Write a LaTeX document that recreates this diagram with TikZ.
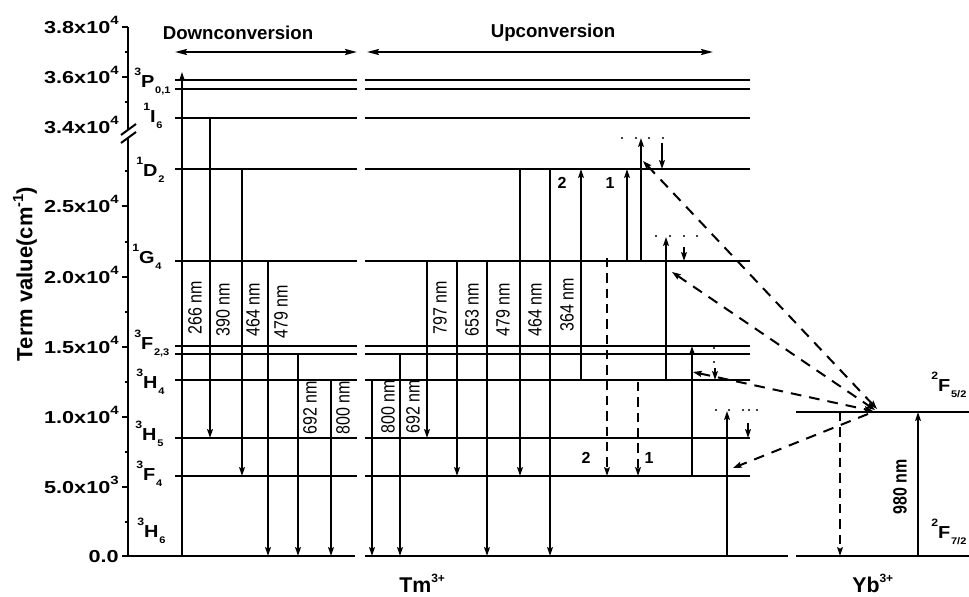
\documentclass[tikz,border=0pt]{standalone}
\usepackage{fontspec}
\setmainfont{Liberation Sans}
\usepackage{graphicx}
\usetikzlibrary{arrows.meta}
\newcommand\lv[3]{\scalebox{1.15}[1]{\bfseries\raisebox{9pt}{\fontsize{8}{8}\selectfont #1}{\fontsize{13}{13}\selectfont #2}\kern0.5pt\raisebox{-5pt}{\fontsize{7.2}{7.2}\selectfont #3}}}
\newcommand\tk[2]{\scalebox{1.25}[1]{\bfseries\fontsize{13}{13}\selectfont #1\raisebox{6.5pt}{\fontsize{9}{9}\selectfont #2}}}
\newcommand\nmtxt[1]{\scalebox{1}[1.2]{#1}}
\tikzset{
  lvl/.style={line width=1.6pt},
  axisl/.style={line width=1.5pt},
  ar/.style={line width=1.5pt,-{Stealth[length=6.5pt,width=4.2pt,inset=1pt]}},
  dar/.style={ar, dash pattern=on 7pt off 4.5pt},
  tr/.style={line width=1.5pt, dash pattern=on 8pt off 6pt, {Stealth[length=6.5pt,width=4.5pt,inset=1pt]}-{Stealth[length=6.5pt,width=4.5pt,inset=1pt]}},
  tr1/.style={line width=1.5pt, dash pattern=on 8pt off 6pt, -{Stealth[length=6.5pt,width=4.5pt,inset=1pt]}},
  dbl/.style={line width=1.6pt, {Stealth[length=9pt,width=4.5pt,inset=1.5pt]}-{Stealth[length=9pt,width=4.5pt,inset=1.5pt]}},
  nm/.style={rotate=90, inner sep=0pt, font=\fontsize{12}{12}\selectfont},
  nmb/.style={nm, font=\bfseries\fontsize{12}{12}\selectfont},
  numl/.style={inner sep=0pt, font=\bfseries\fontsize{12}{12}\selectfont},
  head/.style={inner sep=0pt, font=\bfseries\fontsize{14}{14}\selectfont},
  lab/.style={anchor=base west, inner sep=0pt},
  tick/.style={anchor=base east, inner sep=0pt},
  dot/.style={fill=black}
}
\begin{document}
\begin{tikzpicture}[x=0.75pt,y=-0.75pt]
\useasboundingbox (0,0) rectangle (969,596);

% axis
\coordinate (ax1) at (128,27); \coordinate (ax2) at (128,130);
\coordinate (ax3) at (128,138); \coordinate (ax4) at (128,556);
\draw[axisl] (ax1)--(ax2) (ax3)--(ax4);
\draw[axisl] (121,135)--(136,124) (121,143)--(136,132);
\foreach \y in {27,77,206,277,347,417,487} \draw[axisl] (122,\y)--(128,\y);
\foreach \y in {52,102,171,242,312,382,452,522} \draw[axisl] (125,\y)--(128,\y);

% tick labels
\node[tick] (t38) at (119,33.5) {\tk{3.8x10}{4}};
\node[tick] (t36) at (119,83.5) {\tk{3.6x10}{4}};
\node[tick] (t34) at (119,133.5) {\tk{3.4x10}{4}};
\node[tick] (t25) at (119,212.5) {\tk{2.5x10}{4}};
\node[tick] (t20) at (119,283.5) {\tk{2.0x10}{4}};
\node[tick] (t15) at (119,353.5) {\tk{1.5x10}{4}};
\node[tick] (t10) at (119,423.5) {\tk{1.0x10}{4}};
\node[tick] (t05) at (119,493.5) {\tk{5.0x10}{3}};
\node[tick] (t00) at (119,562) {\tk{0.0}{}};

\node[rotate=90, inner sep=0pt, font=\bfseries\fontsize{16.5}{16.5}\selectfont] (tv) at (25,274) {Term value(cm\raisebox{7pt}{\fontsize{11}{11}\selectfont -1})};

% levels
\foreach \y in {80,89,118,169,261,346,354,380,438,476} {
  \draw[lvl] (175,\y)--(357,\y);
  \draw[lvl] (365,\y)--(750,\y);
}
\draw[lvl] (122,556)--(355,556);
\draw[lvl] (365,556)--(788,556);
\draw[lvl] (796,556)--(969,556);
\draw[lvl] (796,412)--(969,412);

% level labels
\node[lab] (lp) at (134,87) {\lv{3}{P}{0,1}};
\node[lab] (li) at (143,122) {\lv{1}{I}{6}};
\node[lab] (ld) at (136,176) {\lv{1}{D}{2}};
\node[lab] (lg) at (132,263) {\lv{1}{G}{4}};
\node[lab] (lf) at (134,349) {\lv{3}{F}{2,3}};
\node[lab] (lh4) at (136,388) {\lv{3}{H}{4}};
\node[lab] (lh5) at (135,440) {\lv{3}{H}{5}};
\node[lab] (lf4) at (136,480) {\lv{3}{F}{4}};
\node[lab] (lh6) at (137,537) {\lv{3}{H}{6}};
\node[lab] (ly5) at (931,391) {\lv{2}{F}{5/2}};
\node[lab] (ly7) at (931,538) {\lv{2}{F}{7/2}};

% headings
\node[head] (dc) at (238,33) {Downconversion};
\node[head] (uc) at (553,33) {Upconversion};
\coordinate (dcl) at (175,52); \coordinate (dcr) at (357,52);
\coordinate (ucl) at (367,52); \coordinate (ucr) at (713,52);
\draw[dbl] (dcl)--(dcr);
\draw[dbl] (ucl)--(ucr);

% solid arrows
\foreach \n/\x/\a/\b in {a1/182/556/72, a2/210/118/438, a3/242/169/476, a4/268/261/556, a5/298/354/556, a6/331/380/556,
  b1/372/380/556, b2/400/354/556, b3/427/261/438, b4/457/261/476, b5/487/261/556, b6/520/169/476, b7/550/169/556,
  b8/581/380/169, b9/627/261/169, b10/641/261/138, b11/662/143/169, b14/692/476/346, b16/666/380/237,
  b17/684/247/261, b18/727/556/411, b19/748/423/438, b15/715/368/380, c2/918/556/412}
{\coordinate (\n s) at (\x,\a); \coordinate (\n e) at (\x,\b); \draw[ar] (\n s)--(\n e);}

% dashed arrows
\foreach \n/\x/\a/\b in {b12/607/258/476, b13/638/382/476, c1/840/412/556}
{\coordinate (\n s) at (\x,\a); \coordinate (\n e) at (\x,\b); \draw[dar] (\n s)--(\n e);}

% energy transfer
\coordinate (t1a) at (643,161); \coordinate (t1b) at (877,409);
\coordinate (t2a) at (672,272); \coordinate (t2b) at (875,410);
\coordinate (t3a) at (693,372); \coordinate (t3b) at (873,411);
\coordinate (t4a) at (868,414); \coordinate (t4b) at (733,468);
\draw[tr] (t1a)--(t1b);
\draw[tr] (t2a)--(t2b);
\draw[tr] (t3a)--(t3b);
\draw[tr1] (t4a)--(t4b);

% virtual level dots
\foreach \x in {622,636,649,663} \fill[dot] (\x,138) circle[radius=0.9pt];
\foreach \x in {656,670,684,697} \fill[dot] (\x,236) circle[radius=0.9pt];
\foreach \x in {716,729,743,749,757} \fill[dot] (\x,410) circle[radius=0.9pt];
\fill[dot] (714,348) circle[radius=0.9pt];
\fill[dot] (714,362) circle[radius=0.9pt];

% wavelength labels
\node[nm] (w1) at (195,308) {\nmtxt{266 nm}};
\node[nm] (w2) at (223,310) {\nmtxt{390 nm}};
\node[nm] (w3) at (253,310) {\nmtxt{464 nm}};
\node[nm] (w4) at (281,312) {\nmtxt{479 nm}};
\node[nm] (w5) at (310,408) {\nmtxt{692 nm}};
\node[nm] (w6) at (343,408) {\nmtxt{800 nm}};
\node[nm] (w7) at (388,407) {\nmtxt{800 nm}};
\node[nm] (w8) at (413,407) {\nmtxt{692 nm}};
\node[nm] (w9) at (440,308) {\nmtxt{797 nm}};
\node[nm] (w10) at (472,310) {\nmtxt{653 nm}};
\node[nm] (w11) at (503,310) {\nmtxt{479 nm}};
\node[nm] (w12) at (535,310) {\nmtxt{464 nm}};
\node[nm] (w13) at (567,305) {\nmtxt{364 nm}};
\node[nmb] (w14) at (900,487) {\nmtxt{980 nm}};

% numbers
\node[numl] (n2a) at (562,183) {2};
\node[numl] (n1a) at (610,183) {1};
\node[numl] (n2b) at (586,458) {2};
\node[numl] (n1b) at (649,458) {1};

% ion labels
\node[anchor=base west, inner sep=0pt, font=\bfseries\fontsize{16}{16}\selectfont] (tm) at (399,592) {Tm\raisebox{7.5pt}{\fontsize{9}{9}\selectfont 3+}};
\node[anchor=base west, inner sep=0pt, font=\bfseries\fontsize{16}{16}\selectfont] (yb) at (852,592) {Yb\raisebox{7.5pt}{\fontsize{9}{9}\selectfont 3+}};
\end{tikzpicture}
\end{document}
